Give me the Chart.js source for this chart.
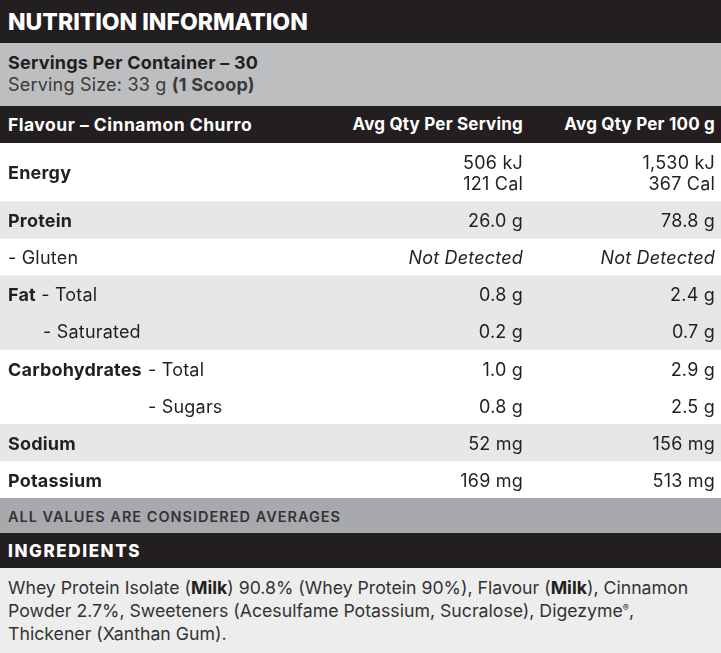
<!DOCTYPE html>
<html>
<head>
<meta charset="utf-8">
<script src="https://cdn.jsdelivr.net/npm/chart.js@4.4.1/dist/chart.umd.min.js"></script>
<style>
  body { margin: 0; width: 721px; height: 653px; overflow: hidden; background: #fff; font-family: Inter, "Noto Sans", sans-serif; color: #231f20; position: relative; }
  .band { position: absolute; left: 0; width: 721px; box-sizing: border-box; padding-left: 8px; white-space: nowrap; }
  .dark { background: #231f20; color: #fff; }
  #title { top: 0; height: 43px; line-height: 45px; font-size: 23px; font-weight: 800; }
  #servings { top: 43px; height: 63px; background: #bcbec0; padding-top: 9px; font-size: 18px; line-height: 22px; letter-spacing: 0.2px; }
  #servings b { font-weight: 700; }
  #servings .size { color: #3a3a3a; }
  #colhead { top: 106px; height: 37px; line-height: 37px; font-size: 17px; font-weight: 700; letter-spacing: 0.2px; }
  #colhead span { position: absolute; top: 0; }
  #colhead .flav { font-size: 17.5px; letter-spacing: 0.5px; }
  #table { position: absolute; top: 143px; left: 0; }
  #note { top: 498px; height: 35px; line-height: 37px; background: #a7a9ac; font-size: 14.5px; font-weight: 600; letter-spacing: 1px; color: #333; }
  #inghead { top: 533px; height: 35px; line-height: 37px; font-size: 17px; font-weight: 800; letter-spacing: 1.6px; }
  #ingredients { top: 568px; height: 85px; background: #ededed; padding-top: 8px; font-size: 17.7px; line-height: 23px; color: #333; }
  #ingredients b { font-weight: 700; color: #231f20; }
  #ingredients sup { font-size: 9px; vertical-align: 6px; line-height: 0; }
</style>
</head>
<body>
<div class="band dark" id="title">NUTRITION INFORMATION</div>
<div class="band" id="servings"><b>Servings Per Container – 30</b><br><span class="size">Serving Size: 33 g <b>(1 Scoop)</b></span></div>
<div class="band dark" id="colhead">
  <span class="flav" style="left:8px">Flavour – Cinnamon Churro</span>
  <span style="right:198px">Avg Qty Per Serving</span>
  <span style="right:6px">Avg Qty Per 100 g</span>
</div>
<canvas id="table" width="721" height="355"></canvas>
<div class="band" id="note">ALL VALUES ARE CONSIDERED AVERAGES</div>
<div class="band dark" id="inghead">INGREDIENTS</div>
<div class="band" id="ingredients">Whey Protein Isolate (<b>Milk</b>) 90.8% (Whey Protein 90%), Flavour (<b>Milk</b>), Cinnamon<br>Powder 2.7%, Sweeteners (Acesulfame Potassium, Sucralose), Digezyme<sup>®</sup>,<br>Thickener (Xanthan Gum).</div>

<script>
// rows of the table
const nutrients = ['Energy', 'Protein', 'Gluten', 'Fat', 'Saturated', 'Carbohydrates', 'Sugars', 'Sodium', 'Potassium'];
const boldLabels = ['Energy', 'Protein', '', 'Fat', '', 'Carbohydrates', '', 'Sodium', 'Potassium'];
const subLabels = ['', '', '- Gluten', ' - Total', '- Saturated', '- Total', '- Sugars', '', ''];
const perServing = ['506 kJ|121 Cal', '26.0 g', 'Not Detected', '0.8 g', '0.2 g', '1.0 g', '0.8 g', '52 mg', '169 mg'];
const per100g = ['1,530 kJ|367 Cal', '78.8 g', 'Not Detected', '2.4 g', '0.7 g', '2.9 g', '2.5 g', '156 mg', '513 mg'];
// nutrient groups (fat and carbs span two rows each)
const rowGroup = [0, 1, 2, 3, 3, 4, 4, 5, 6];

const ENERGY_SPAN = 1.56;
const spans = nutrients.map(n => n === 'Energy' ? ENERGY_SPAN : 1);
const total = spans.reduce((a, b) => a + b, 0);
const subIndent = { Gluten: 8, Saturated: 43, Carbohydrates: 148, Sugars: 148 };

const tableText = {
  id: 'tableText',
  afterDatasetsDraw(chart) {
    const ctx = chart.ctx;
    const right = chart.chartArea.right;
    const size = 18;
    ctx.save();
    ctx.fillStyle = '#231f20';
    ctx.textBaseline = 'alphabetic';
    ctx.letterSpacing = '0.2px';
    nutrients.forEach((n, i) => {
      const bar = chart.getDatasetMeta(i).data[0];
      const cy = (bar.y + bar.base) / 2;
      const base = cy + size * 0.36 + 1;
      // label
      ctx.textAlign = 'left';
      let x = 8;
      if (boldLabels[i]) {
        ctx.font = '700 ' + size + 'px Inter';
        ctx.fillText(boldLabels[i], x, base);
        x += ctx.measureText(boldLabels[i]).width;
      }
      if (subLabels[i]) {
        ctx.font = '400 ' + size + 'px Inter';
        if (subIndent[n] !== undefined) x = subIndent[n];
        ctx.fillText(subLabels[i], x, base);
      }
      // values
      ctx.textAlign = 'right';
      [[perServing[i], 523], [per100g[i], right - 6]].forEach(([v, vx]) => {
        ctx.font = (v === 'Not Detected' ? 'italic ' : '') + '400 ' + size + 'px Inter';
        const lines = v.split('|');
        if (lines.length === 1) {
          ctx.fillText(v, vx, base);
        } else {
          ctx.fillText(lines[0], vx, base - 10.5);
          ctx.fillText(lines[1], vx, base + 10.5);
        }
      });
    });
    ctx.restore();
  }
};

new Chart(document.getElementById('table').getContext('2d'), {
  type: 'bar',
  data: {
    labels: ['table'],
    datasets: nutrients.map((n, i) => ({
      label: n,
      data: [spans[i]],
      backgroundColor: rowGroup[i] % 2 ? '#e6e7e8' : '#ffffff',
      borderWidth: 0,
      barPercentage: 1,
      categoryPercentage: 1,
      stack: 'rows'
    }))
  },
  options: {
    responsive: false,
    animation: false,
    events: [],
    layout: { padding: 0 },
    plugins: {
      legend: { display: false },
      tooltip: { enabled: false }
    },
    scales: {
      x: { display: false, stacked: true },
      y: { display: false, stacked: true, reverse: true, min: 0, max: total }
    }
  },
  plugins: [tableText]
});
</script>
</body>
</html>
